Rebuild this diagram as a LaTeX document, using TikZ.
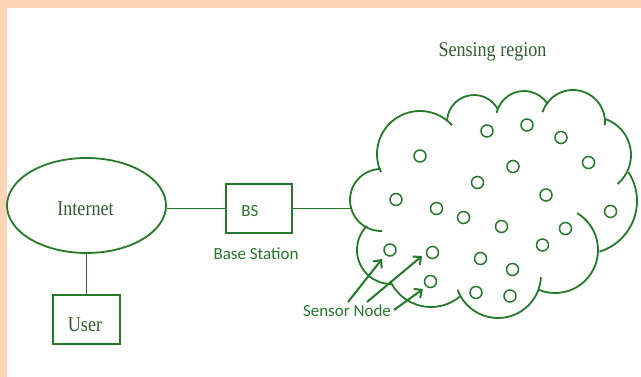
\documentclass[tikz,border=0pt]{standalone}
\usepackage{fontspec}
\setmainfont{Liberation Serif}
\newfontfamily\labelsans{Carlito}
\usetikzlibrary{shapes.geometric,arrows.meta}
\definecolor{leafgreen}{RGB}{38,120,42}
\definecolor{mossgreen}{RGB}{50,95,50}
\definecolor{peach}{RGB}{252,213,180}
% one lobe of the cloud outline: centre x, centre y, radius, start angle, end angle
\newcommand\cloudarc[5]{\draw[cloudline] (#1,#2) ++(#4:#3) arc[start angle=#4,end angle=#5,radius=#3];}

\begin{document}
\begin{tikzpicture}[x=1pt,y=-1pt,
  link/.style={draw=leafgreen,line width=1.8pt},
  cloudline/.style={draw=leafgreen,line width=1.8pt},
  boxnode/.style={draw=leafgreen,line width=1.8pt,rectangle,minimum width=67pt,minimum height=49pt,inner sep=0pt},
  serifnote/.style={text=mossgreen,font=\fontsize{21}{24}\selectfont,anchor=base,inner sep=0pt},
  sansnote/.style={text=leafgreen,font=\labelsans\fontsize{17}{20}\selectfont,anchor=base,inner sep=0pt},
  sensor/.style={circle,draw=leafgreen,line width=1.5pt,minimum size=12pt,inner sep=0pt},
  pointer/.style={draw=leafgreen,line width=2pt,-{Straight Barb[length=6pt,width=11pt]}}]

\useasboundingbox (0,0) rectangle (641,377);
\fill[white] (0,0) rectangle (641,377);
\fill[peach] (0,0) rectangle (641,8);
\fill[peach] (0,0) rectangle (7,377);

% network side
\node[ellipse,draw=leafgreen,line width=1.8pt,minimum width=159pt,minimum height=95pt,inner sep=0pt] (inet) at (86.5,205.5) {};
\node[serifnote] (inetlabel) at (85.5,216) {\scalebox{0.86}[1]{Internet}};
\node[boxnode] (user) at (86.5,319.5) {};
\node[serifnote] (userlabel) at (85,331) {\scalebox{0.86}[1]{User}};
\node[boxnode,minimum width=66pt] (bs) at (259,208.5) {};
\node[sansnote] (bslabel) at (250,217) {BS};
\node[sansnote] (bscaption) at (256,260) {Base Station};
\node[sansnote] (sensorcaption) at (347,317) {Sensor Node};
\node[serifnote] (regiontitle) at (492.5,57) {\scalebox{0.86}[1]{Sensing region}};

% cloud outline of the sensing region
\cloudarc{381}{200}{31}{270}{88}
\cloudarc{420}{154}{43}{155}{318}
\cloudarc{474}{122}{27}{183}{332}
\cloudarc{524}{119}{28}{192.5}{328}
\cloudarc{573}{122}{32}{198}{365}
\cloudarc{593}{155}{38}{288}{410}
\cloudarc{584}{201}{53}{327}{433}
\cloudarc{555}{250}{43}{301}{472}
\cloudarc{498}{275}{43}{160}{3}
\cloudarc{431}{262}{45}{155}{50}
\cloudarc{391}{250}{34}{225}{88}
\coordinate (cloudport) at (351.5,208.5);

% links
\draw[link] (inet.south) -- (user.north);
\draw[link] (inet.east |- bs.west) -- (bs.west);
\draw[link] (bs.east) -- (cloudport);

% sensor nodes
\foreach \n/\px/\py in {1/487/131, 2/527/125, 3/561/137.5, 4/420/156, 5/513/166.5,
  6/588.5/162.5, 7/477.5/182.5, 8/546/195, 9/396/199.5, 10/436.5/208.5,
  11/463.5/217.5, 12/501.5/226.5, 13/565.5/228.5, 14/610.5/211.5, 15/390/250,
  16/432.5/252.5, 17/480.5/258.5, 18/542.5/245, 19/512.5/269.5, 20/430.5/281.5,
  21/476/292.5, 22/510/296}
  \node[sensor] (s\n) at (\px,\py) {};

% pointers from the caption
\coordinate (p1) at (348,302); \coordinate (q1) at (382,259);
\coordinate (p2) at (367,302); \coordinate (q2) at (422,256);
\coordinate (p3) at (394,310); \coordinate (q3) at (423,289);
\draw[pointer] (p1) -- (q1);
\draw[pointer] (p2) -- (q2);
\draw[pointer] (p3) -- (q3);
\end{tikzpicture}
\end{document}
